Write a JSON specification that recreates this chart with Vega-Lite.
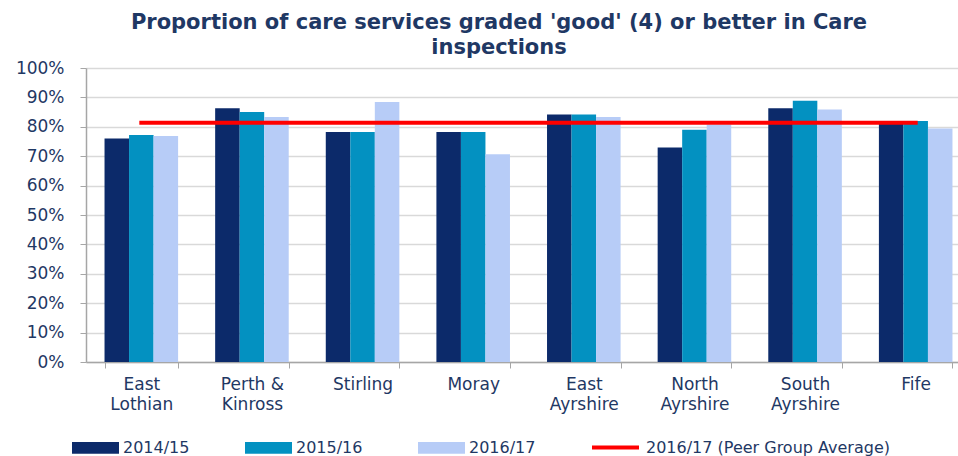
{
  "$schema": "https://vega.github.io/schema/vega-lite/v6.json",
  "width": 872,
  "height": 294,
  "autosize": {"type": "none"},
  "padding": {"left": 86, "top": 68, "right": 0, "bottom": 94},
  "background": "white",
  "title": {
    "text": ["Proportion of care services graded 'good' (4) or better in Care", "inspections"],
    "font": "DejaVu Sans",
    "fontSize": 21,
    "fontWeight": "bold",
    "color": "#1F3864",
    "lineHeight": 25,
    "offset": 1,
    "anchor": "middle",
    "dx": -23
  },
  "config": {"view": {"stroke": null}},
  "encoding": {
    "x": {
      "field": "region",
      "type": "nominal",
      "sort": null,
      "scale": {"range": [0, 885], "paddingInner": 0.335, "paddingOuter": 0.1675},
      "axis": {
        "title": null,
        "tickBand": "extent",
        "labelAngle": 0,
        "labelExpr": "datum.label == 'Perth & Kinross' ? ['Perth &', 'Kinross'] : split(datum.label, ' ')",
        "labelFont": "DejaVu Sans",
        "labelFontSize": 17,
        "labelColor": "#1F3864",
        "labelLineHeight": 20,
        "labelPadding": 8,
        "tickSize": 6,
        "tickColor": "#A6A6A6",
        "domainColor": "#A6A6A6",
        "domainWidth": 1.5,
        "grid": false
      }
    },
    "y": {
      "field": "value",
      "type": "quantitative",
      "scale": {"domain": [0, 100], "nice": false},
      "axis": {
        "title": null,
        "tickCount": 10,
        "tickMinStep": 10,
        "labelOverlap": false,
        "labelExpr": "datum.value + '%'",
        "labelFont": "DejaVu Sans",
        "labelFontSize": 17,
        "labelColor": "#1F3864",
        "labelPadding": 16,
        "tickSize": 6,
        "tickColor": "#A6A6A6",
        "domainColor": "#A6A6A6",
        "domainWidth": 1.5,
        "grid": true,
        "gridColor": "#D9D9D9",
        "gridWidth": 1.5
      }
    }
  },
  "layer": [
    {
      "data": {
        "values": [
          {"region": "East Lothian", "year": "2014/15", "value": 76},
          {"region": "East Lothian", "year": "2015/16", "value": 77.2},
          {"region": "East Lothian", "year": "2016/17", "value": 76.9},
          {"region": "Perth & Kinross", "year": "2014/15", "value": 86.3},
          {"region": "Perth & Kinross", "year": "2015/16", "value": 85},
          {"region": "Perth & Kinross", "year": "2016/17", "value": 83.3},
          {"region": "Stirling", "year": "2014/15", "value": 78.2},
          {"region": "Stirling", "year": "2015/16", "value": 78.2},
          {"region": "Stirling", "year": "2016/17", "value": 88.4},
          {"region": "Moray", "year": "2014/15", "value": 78.2},
          {"region": "Moray", "year": "2015/16", "value": 78.2},
          {"region": "Moray", "year": "2016/17", "value": 70.7},
          {"region": "East Ayrshire", "year": "2014/15", "value": 84.2},
          {"region": "East Ayrshire", "year": "2015/16", "value": 84.2},
          {"region": "East Ayrshire", "year": "2016/17", "value": 83.3},
          {"region": "North Ayrshire", "year": "2014/15", "value": 73},
          {"region": "North Ayrshire", "year": "2015/16", "value": 79},
          {"region": "North Ayrshire", "year": "2016/17", "value": 80.8},
          {"region": "South Ayrshire", "year": "2014/15", "value": 86.3},
          {"region": "South Ayrshire", "year": "2015/16", "value": 88.9},
          {"region": "South Ayrshire", "year": "2016/17", "value": 85.9},
          {"region": "Fife", "year": "2014/15", "value": 81.7},
          {"region": "Fife", "year": "2015/16", "value": 82},
          {"region": "Fife", "year": "2016/17", "value": 79.4}
        ]
      },
      "mark": {"type": "bar"},
      "encoding": {
        "xOffset": {"field": "year", "type": "nominal", "sort": null, "scale": {"paddingInner": 0, "paddingOuter": 0}},
        "color": {
          "field": "year",
          "type": "nominal",
          "scale": {"domain": ["2014/15", "2015/16", "2016/17"], "range": ["#0C2A6A", "#0391C1", "#B7CCF7"]},
          "legend": {
            "title": null,
            "orient": "none",
            "legendX": -14,
            "legendY": 356,
            "direction": "horizontal",
            "symbolType": "M-1,-0.25L1,-0.25L1,0.25L-1,0.25Z",
            "symbolSize": 2209,
            "symbolStrokeWidth": 0,
            "symbolOpacity": 1,
            "labelFont": "DejaVu Sans",
            "labelFontSize": 16,
            "labelColor": "#1F3864",
            "labelOffset": 4,
            "labelLimit": 400,
            "columnPadding": 55,
            "padding": 0
          }
        }
      }
    },
    {
      "data": {
        "values": [
          {"region": "East Lothian", "series": "2016/17 (Peer Group Average)", "value": 81.4},
          {"region": "Perth & Kinross", "series": "2016/17 (Peer Group Average)", "value": 81.4},
          {"region": "Stirling", "series": "2016/17 (Peer Group Average)", "value": 81.4},
          {"region": "Moray", "series": "2016/17 (Peer Group Average)", "value": 81.4},
          {"region": "East Ayrshire", "series": "2016/17 (Peer Group Average)", "value": 81.4},
          {"region": "North Ayrshire", "series": "2016/17 (Peer Group Average)", "value": 81.4},
          {"region": "South Ayrshire", "series": "2016/17 (Peer Group Average)", "value": 81.4},
          {"region": "Fife", "series": "2016/17 (Peer Group Average)", "value": 81.4}
        ]
      },
      "mark": {"type": "line", "strokeWidth": 4, "strokeCap": "square"},
      "encoding": {
        "stroke": {
          "field": "series",
          "type": "nominal",
          "scale": {"domain": ["2016/17 (Peer Group Average)"], "range": ["#FF0000"]},
          "legend": {
            "title": null,
            "orient": "none",
            "legendX": 504,
            "legendY": 354,
            "symbolType": "stroke",
            "symbolSize": 2209,
            "symbolStrokeWidth": 4,
            "labelFont": "DejaVu Sans",
            "labelFontSize": 16,
            "labelColor": "#1F3864",
            "labelOffset": 5,
            "labelLimit": 400,
            "padding": 0
          }
        }
      }
    }
  ]
}
